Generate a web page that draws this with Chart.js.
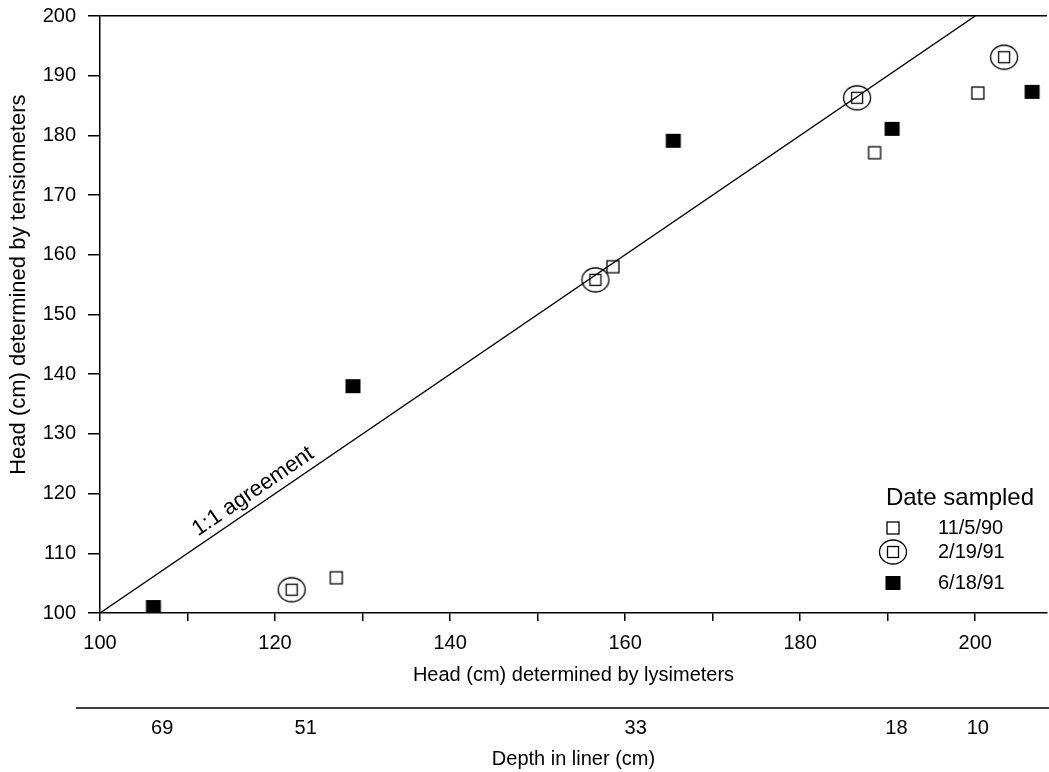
<!DOCTYPE html>
<html>
<head>
<meta charset="utf-8">
<title>Head: tensiometers vs lysimeters</title>
<script src="https://cdn.jsdelivr.net/npm/chart.js@4/dist/chart.umd.min.js"></script>
<style>
  body { margin: 0; background: #fff; }
  canvas { display: block; }
</style>
</head>
<body>
<canvas id="chart" width="1049" height="772"></canvas>
<script>
// --- data ---
const seriesLabels = ["11/5/90", "2/19/91", "6/18/91"];
const lysNov90 = [127.0, 158.6, 188.5, 200.3];
const tensNov90 = [105.9, 158.0, 177.1, 187.1];
const lysFeb91 = [121.9, 156.6, 186.5, 203.3];
const tensFeb91 = [103.9, 155.8, 186.3, 193.1];
const lysJun91 = [106.1, 128.9, 165.5, 190.5, 206.5];
const tensJun91 = [101.0, 138.0, 179.1, 181.1, 187.3];
const agreementLine = [100, 200];
const depthLabels = ["69", "51", "33", "18", "10"];
const depthAtHead = [107.1, 123.5, 161.2, 191.0, 200.3];

const FONT = '"Liberation Sans", Arial, Helvetica, sans-serif';
Chart.defaults.font.family = FONT;
Chart.defaults.color = "#000";

const pts = (xs, ys) => xs.map((x, i) => ({ x, y: ys[i] }));

// marker glyphs (open square, circled square, filled square)
function makeMarker(kind) {
  const c = document.createElement("canvas");
  c.width = 30; c.height = 30;
  const g = c.getContext("2d");
  g.strokeStyle = "#000";
  g.fillStyle = "#000";
  g.lineWidth = 1.3;
  if (kind === "open") {
    g.strokeRect(9, 9, 12, 12);
  } else if (kind === "circled") {
    g.beginPath();
    g.ellipse(15, 15, 13.5, 12, 0, 0, Math.PI * 2);
    g.stroke();
    g.strokeRect(9.5, 9.5, 11, 11);
  } else {
    g.fillRect(7.5, 8, 15, 14);
  }
  return c;
}
const markers = [makeMarker("open"), makeMarker("circled"), makeMarker("filled")];

// drop the label-overhang padding Chart.js reserves, the original has none
const noOverhang = (s) => {
  s.paddingTop = 0; s.paddingBottom = 0;
  s.paddingLeft = 0; s.paddingRight = 0;
};

// legend, axis title, "1:1 agreement" label and the depth rule
const extras = {
  id: "extras",
  afterDraw(chart) {
    const { ctx, chartArea: a, scales } = chart;
    const x = scales.x, y = scales.y, d = scales.depth;
    ctx.save();
    ctx.fillStyle = "#000";

    // rule above the depth labels
    ctx.strokeStyle = "#000";
    ctx.lineWidth = 1.5;
    ctx.beginPath();
    ctx.moveTo(76, d.top);
    ctx.lineTo(chart.width, d.top);
    ctx.stroke();

    // y title (sits a bit above the middle in the original)
    ctx.translate(19, a.top + (a.bottom - a.top) * 0.45);
    ctx.rotate(-Math.PI / 2);
    ctx.font = "22px " + FONT;
    ctx.textAlign = "center";
    ctx.textBaseline = "middle";
    ctx.fillText("Head (cm) determined by tensiometers", 0, 0);
    ctx.setTransform(1, 0, 0, 1, 0, 0);

    // 1:1 label along the line
    const x0 = x.getPixelForValue(agreementLine[0]), y0 = y.getPixelForValue(agreementLine[0]);
    const x1 = x.getPixelForValue(agreementLine[1]), y1 = y.getPixelForValue(agreementLine[1]);
    const ang = Math.atan2(y1 - y0, x1 - x0);
    const px = x.getPixelForValue(118.4), py = y.getPixelForValue(118.4);
    ctx.translate(px, py);
    ctx.rotate(ang);
    ctx.font = "22px " + FONT;
    ctx.textAlign = "center";
    ctx.textBaseline = "bottom";
    ctx.fillText("1:1 agreement", 0, -3);
    ctx.setTransform(1, 0, 0, 1, 0, 0);

    // legend
    const lx = a.right - 154, ly = a.bottom - 115;
    ctx.font = "24px " + FONT;
    ctx.textAlign = "right";
    ctx.textBaseline = "middle";
    ctx.fillText("Date sampled", a.right - 13, ly);
    ctx.textAlign = "left";
    const rows = [ly + 30, ly + 54, ly + 85];
    ctx.font = "20px " + FONT;
    seriesLabels.forEach((lab, i) => {
      ctx.drawImage(markers[i], lx - 15, rows[i] - 15);
      ctx.fillText(lab, lx + 45, rows[i]);
    });
    ctx.restore();
  }
};

new Chart(document.getElementById("chart"), {
  type: "scatter",
  data: {
    datasets: [
      {
        label: seriesLabels[0],
        data: pts(lysNov90, tensNov90),
        pointStyle: markers[0],
        pointRadius: 8,
      },
      {
        label: seriesLabels[1],
        data: pts(lysFeb91, tensFeb91),
        pointStyle: markers[1],
        pointRadius: 14,
      },
      {
        label: seriesLabels[2],
        data: pts(lysJun91, tensJun91),
        pointStyle: markers[2],
        pointRadius: 10,
      },
      {
        type: "line",
        label: "1:1 agreement",
        data: pts(agreementLine, agreementLine),
        borderColor: "#000",
        borderWidth: 1.4,
        pointRadius: 0,
        fill: false,
      },
    ],
  },
  options: {
    responsive: false,
    animation: false,
    layout: { autoPadding: false, padding: { top: 16, right: 2, left: 0, bottom: 0 } },
    plugins: { legend: { display: false }, tooltip: { enabled: false } },
    scales: {
      x: {
        type: "linear",
        position: "bottom",
        weight: 0,
        min: 100,
        max: 208.2,
        afterBuildTicks: (s) => { s.ticks = s.ticks.filter((t) => t.value <= 200); },
        afterFit: (s) => { s.height = 95; noOverhang(s); },
        ticks: {
          stepSize: 10,
          includeBounds: false,
          autoSkip: false,
          maxRotation: 0,
          padding: 10,
          font: { size: 20 },
          callback: (v) => (Math.round(v) % 20 === 0 ? Math.round(v) : ""),
        },
        grid: { drawOnChartArea: false, color: "#000", tickLength: 8, lineWidth: 1.5 },
        border: { display: true, color: "#000", width: 1.5 },
        title: {
          display: true,
          text: "Head (cm) determined by lysimeters",
          font: { size: 20 },
          padding: { top: 0, bottom: 21 },
        },
      },
      depth: {
        type: "linear",
        position: "bottom",
        weight: 1,
        min: 100,
        max: 208.2,
        afterBuildTicks: (s) => { s.ticks = depthAtHead.map((v) => ({ value: v })); },
        afterFit: (s) => { s.height = 64; noOverhang(s); },
        ticks: {
          autoSkip: false,
          maxRotation: 0,
          padding: 8,
          font: { size: 20 },
          callback: (v, i) => depthLabels[i],
        },
        grid: { display: false, drawTicks: false },
        border: { display: false },
        title: {
          display: true,
          text: "Depth in liner (cm)",
          font: { size: 20 },
          padding: { top: 0, bottom: 1 },
        },
      },
      y: {
        type: "linear",
        min: 100,
        max: 200,
        afterFit: (s) => { s.width = 100; noOverhang(s); },
        ticks: { stepSize: 10, padding: 12, font: { size: 20 } },
        grid: {
          color: (c) => (c.tick && c.tick.value === 200 ? "#000" : "rgba(0,0,0,0)"),
          tickColor: "#000",
          tickLength: 12,
          lineWidth: 1.5,
        },
        border: { display: true, color: "#000", width: 1.5 },
        title: { display: false },
      },
    },
  },
  plugins: [extras],
});
</script>
</body>
</html>
